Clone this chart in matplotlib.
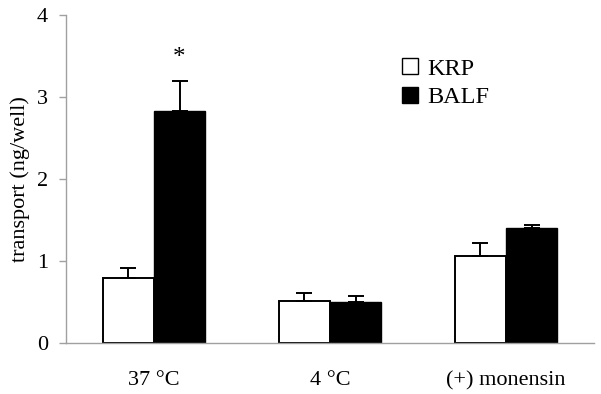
import matplotlib
matplotlib.use('Agg')
import matplotlib.pyplot as plt
import numpy as np
from matplotlib.patches import Patch

plt.rcParams['font.family'] = ['Liberation Serif', 'DejaVu Serif']

categories = ['37 °C', '4 °C', '(+) monensin']
krp = [0.79, 0.51, 1.065]
krp_err = [0.13, 0.10, 0.155]
balf = [2.83, 0.50, 1.40]
balf_err = [0.37, 0.07, 0.04]
yticks = [0, 1, 2, 3, 4]

fig = plt.figure(figsize=(6.01, 3.94), dpi=100)
ax = fig.add_axes([66 / 601, 1 - 343 / 394, 528 / 601, 328 / 394])

x = np.arange(len(categories))
w = 0.29
err_kw = dict(ecolor='black', elinewidth=1.4, capsize=6, capthick=1.4)
ax.bar(x - w / 2, krp, w, color='white', edgecolor='black', linewidth=1.4,
       yerr=[np.zeros(3), krp_err], error_kw=err_kw, label='KRP')
ax.bar(x + w / 2, balf, w, color='black', edgecolor='black', linewidth=1.0,
       yerr=[np.zeros(3), balf_err], error_kw=err_kw, label='BALF')

ax.text(x[0] + w / 2, balf[0] + balf_err[0] + 0.28, '*', ha='center', va='center',
        fontsize=18)

ax.set_xlim(-0.5, 2.5)
ax.set_ylim(0, 4)
ax.set_yticks(yticks)
ax.set_xticks(x)
ax.set_xticklabels(categories)
ax.tick_params(axis='x', length=0, pad=20, labelsize=16)
ax.tick_params(axis='y', length=5, color='#a0a0a0', width=1, pad=8, labelsize=16)
for s in ['top', 'right']:
    ax.spines[s].set_visible(False)
for s in ['left', 'bottom']:
    ax.spines[s].set_color('#a0a0a0')
    ax.spines[s].set_linewidth(1)
ax.set_ylabel('transport (ng/well)', fontsize=16, labelpad=5)

handles = [Patch(facecolor='white', edgecolor='black', linewidth=1),
           Patch(facecolor='black', edgecolor='black', linewidth=1)]
ax.legend(handles, ['KRP', 'BALF'], loc='upper left', bbox_to_anchor=(0.595, 0.935),
          frameon=False, fontsize=17.5, handlelength=0.65, handleheight=0.65,
          handletextpad=0.4, labelspacing=0.28)

fig.savefig('out.png', dpi=100)
